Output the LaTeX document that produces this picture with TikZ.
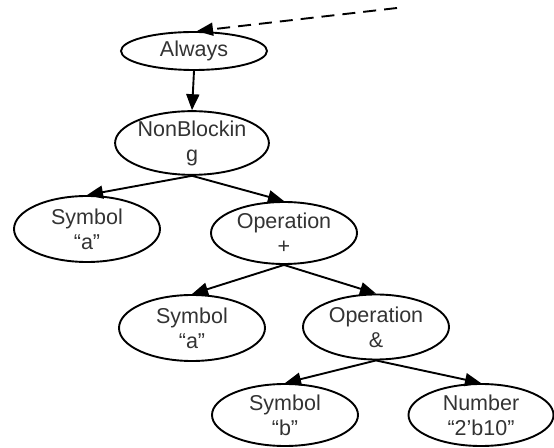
\documentclass[tikz,border=0pt]{standalone}
\usepackage{fontspec}
\setmainfont{Liberation Sans}
\usetikzlibrary{shapes.geometric,arrows.meta}
\begin{document}
\begin{tikzpicture}[x=1pt,y=1pt,
  tnode/.style={ellipse,draw,line width=1.9pt,minimum width=146pt,minimum height=62pt,inner sep=0pt,align=center,font=\fontsize{21.5}{25}\selectfont,text=black!80},
  conn/.style={line width=1.9pt,-{Triangle[length=16pt,width=13pt]}},
  ]
\useasboundingbox (0,0) rectangle (554,447);
\node[tnode,minimum height=38pt] (always) at (194,396) {Always};
\node[tnode] (nb) at (192,304) {NonBlockin\\g};
\node[tnode,minimum height=66pt] (syma1) at (87,218) {Symbol\\“a”};
\node[tnode] (opplus) at (284,214) {Operation\\+};
\node[tnode,minimum height=66pt] (syma2) at (192,119) {Symbol\\“a”};
\node[tnode,minimum height=65pt] (opand) at (376,120) {Operation\\\&};
\node[tnode] (symb) at (285,32) {Symbol\\“b”};
\node[tnode,minimum width=145pt] (num) at (481,32) {Number\\“2{\char"0027}b10”};
\coordinate (src) at (397,439);
\draw[conn,dash pattern=on 13pt off 8pt] (src) -- ([xshift=3pt]always.north);
\draw[conn] (always.south) -- (nb.north);
\draw[conn] (nb.south) -- (syma1.north);
\draw[conn] (nb.south) -- (opplus.north);
\draw[conn] (opplus.south) -- (syma2.north);
\draw[conn] (opplus.south) -- (opand.north);
\draw[conn] (opand.south) -- (symb.north);
\draw[conn] (opand.south) -- (num.north);
\end{tikzpicture}
\end{document}
